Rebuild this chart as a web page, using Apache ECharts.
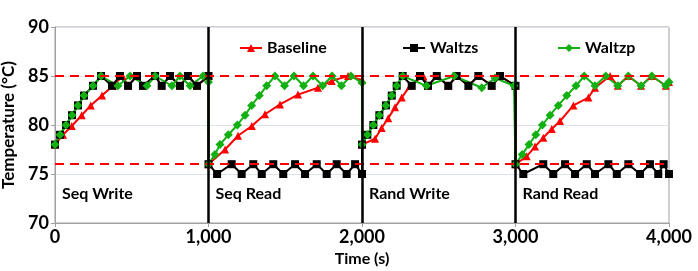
<!DOCTYPE html>
<html><head><meta charset="utf-8">
<script src="https://cdn.jsdelivr.net/npm/echarts@6/dist/echarts.min.js"></script>
<style>html,body{margin:0;padding:0;background:#fff}#c{width:698px;height:271px}</style>
</head><body><div id="c"></div>
<script>
// ---- data (time in s, temperature in °C) ----
const xTicks = [0, 1000, 2000, 3000, 4000];
const yTicks = [70, 75, 80, 85, 90];
const phaseNames = ['Seq Write', 'Seq Read', 'Rand Write', 'Rand Read'];
const limitLines = [85, 76];
const phaseBounds = [1000, 2000, 3000];

const baselineT = [0, 52, 109, 174, 233, 306, 378, 440, 476, 534, 573, 652, 695, 749, 814, 866, 925, 1000,
  1000, 1108, 1192, 1282, 1368, 1466, 1583, 1713, 1803, 1909, 2000,
  2000, 2085, 2128, 2171, 2215, 2259, 2313, 2399, 2430, 2487, 2562, 2617, 2693, 2758, 2845, 2899, 3000,
  3000, 3073, 3127, 3181, 3236, 3290, 3377, 3475, 3518, 3616, 3666, 3735, 3818, 3888, 3979, 4000];
const baselineV = [78, 79, 79.9, 81, 82, 83, 84, 85, 84, 85, 84, 85, 84, 85, 84, 85, 84, 85,
  76, 77.5, 78.9, 79.9, 81.1, 82.1, 83.1, 83.8, 84.5, 85, 84.6,
  78, 78.6, 79.7, 80.7, 81.8, 82.8, 84, 85, 84, 85, 84, 85, 84, 85, 84, 85, 84,
  76, 76.8, 77.8, 78.7, 79.6, 80.4, 82, 82.8, 83.8, 85, 84, 85, 84, 85, 84, 84.4];

const waltzsT = [0, 33, 72, 111, 150, 189, 248, 300, 371, 423, 476, 534, 573, 652, 695, 749, 814, 866, 925, 1000,
  1000, 1056, 1151, 1216, 1292, 1347, 1422, 1487, 1564, 1629, 1705, 1770, 1835, 1900, 1955, 2000,
  2000, 2035, 2074, 2113, 2156, 2194, 2226, 2265, 2324, 2378, 2430, 2487, 2562, 2617, 2693, 2758, 2845, 2899, 3000,
  3000, 3051, 3181, 3246, 3323, 3388, 3464, 3518, 3605, 3660, 3735, 3811, 3876, 3930, 3965, 4000];
const waltzsV = [78, 79, 80, 81, 82, 83, 84, 85, 84, 85, 84, 85, 84, 85, 84, 85, 84, 85, 84, 85,
  76, 75, 76, 75, 76, 75, 76, 75, 76, 75, 76, 75, 76, 75, 76, 75,
  78, 79, 80, 81, 82, 83, 84, 85, 84, 85, 84, 85, 84, 85, 84, 85, 84, 85, 84,
  76, 75, 76, 75, 76, 75, 76, 75, 76, 75, 76, 75, 76, 75, 76, 75];

const waltzpT = [0, 33, 72, 111, 150, 189, 248, 300, 410, 489, 599, 652, 762, 814, 880, 964, 1000,
  1000, 1042, 1075, 1129, 1188, 1238, 1281, 1331, 1379, 1433, 1495, 1557, 1619, 1681, 1743, 1805, 1866, 1928, 2000,
  2000, 2035, 2074, 2113, 2156, 2194, 2226, 2265, 2420, 2600, 2780, 2867, 2990,
  3000, 3044, 3088, 3132, 3175, 3225, 3279, 3334, 3394, 3448, 3518, 3588, 3666, 3735, 3818, 3888, 3979, 4000];
const waltzpV = [78, 79, 80, 81, 82, 83, 84, 85, 84, 85, 84, 85, 84, 85, 84, 85, 84.4,
  76, 77, 78, 79, 80, 81, 82, 83, 84, 85, 84, 85, 84, 85, 84, 85, 84, 85, 84.3,
  78, 79, 80, 81, 82, 83, 84, 85, 84, 85, 83.8, 84.8, 84,
  76, 77, 78, 79, 80, 81, 82, 83, 84, 85, 84, 85, 84, 85, 84, 85, 84, 84.4];

const zip = (t, v) => t.map((x, i) => [x, v[i]]);
const FONT = 'Lato';

const chart = echarts.init(document.getElementById('c'), null, {renderer: 'canvas'});
const GRID = {left: 55, right: 29, top: 27, bottom: 48};

const legendBase = {
  orient: 'horizontal', top: 35, itemWidth: 22, itemHeight: 10, itemGap: 4,
  textStyle: {fontFamily: FONT, fontWeight: 'bold', fontSize: 16, color: '#000'}
};

const option = {
  animation: false,
  backgroundColor: '#fff',
  grid: Object.assign({show: true, borderColor: '#a0a0a0', borderWidth: 1, backgroundColor: 'transparent',
    containLabel: false, outerBoundsMode: 'none'}, GRID),
  legend: [
    Object.assign({}, legendBase, {left: 234, data: ['Baseline']}),
    Object.assign({}, legendBase, {left: 397, data: ['Waltzs']}),
    Object.assign({}, legendBase, {left: 552, data: ['Waltzp']})
  ],
  xAxis: {
    type: 'value', min: xTicks[0], max: xTicks[xTicks.length - 1], interval: 1000,
    name: 'Time (s)', nameLocation: 'middle', nameGap: 24,
    nameTextStyle: {fontFamily: FONT, fontWeight: 'bold', fontSize: 16, color: '#000'},
    axisLine: {show: true, lineStyle: {color: '#a0a0a0', width: 1}},
    axisTick: {show: true, length: 4, lineStyle: {color: '#a0a0a0'}},
    splitLine: {show: false},
    axisLabel: {fontFamily: FONT, fontWeight: 'bold', fontSize: 18, color: '#000', margin: 5,
      formatter: v => v.toString().replace(/\B(?=(\d{3})+(?!\d))/g, ',')}
  },
  yAxis: {
    type: 'value', min: yTicks[0], max: yTicks[yTicks.length - 1], interval: 5,
    name: 'Temperature (°C)', nameLocation: 'middle', nameGap: 33,
    nameTextStyle: {fontFamily: FONT, fontWeight: 'bold', fontSize: 17, color: '#000'},
    axisLine: {show: true, lineStyle: {color: '#a0a0a0', width: 1}},
    axisTick: {show: true, length: 4, lineStyle: {color: '#a0a0a0'}},
    splitLine: {show: true, lineStyle: {color: '#dde3ec', width: 1}},
    axisLabel: {fontFamily: FONT, fontWeight: 'bold', fontSize: 18, color: '#000', margin: 6}
  },
  series: [
    {
      name: 'Baseline', type: 'line', data: zip(baselineT, baselineV),
      symbol: 'triangle', symbolSize: 8, color: '#ff0000',
      lineStyle: {color: '#ff0000', width: 2}, itemStyle: {color: '#ff0000'}
    },
    {
      name: 'Waltzs', type: 'line', data: zip(waltzsT, waltzsV),
      symbol: 'rect', symbolSize: 8, color: '#000',
      lineStyle: {color: '#000', width: 2}, itemStyle: {color: '#000'}
    },
    {
      name: 'Waltzp', type: 'line', data: zip(waltzpT, waltzpV),
      symbol: 'diamond', symbolSize: 9, color: '#12b012',
      lineStyle: {color: '#12b012', width: 2}, itemStyle: {color: '#12b012'}
    },
    {
      name: 'limits', type: 'line', data: [], z: 5, silent: true,
      markLine: {
        silent: true, symbol: 'none', label: {show: false}, animation: false,
        lineStyle: {color: '#ff0000', type: [9, 6], width: 2},
        data: limitLines.map(v => ({yAxis: v}))
      }
    },
    {
      name: 'bounds', type: 'line', data: [], z: 6, silent: true,
      markLine: {
        silent: true, symbol: 'none', label: {show: false}, animation: false,
        lineStyle: {color: '#000', type: 'solid', width: 2.5},
        data: phaseBounds.map(v => ({xAxis: v}))
      }
    }
  ]
};
chart.setOption(option);

// phase labels, anchored to data coordinates
const labelOffsets = [0, 1000, 2000, 3000];
chart.setOption({
  graphic: phaseNames.map((name, i) => {
    const p = chart.convertToPixel({gridIndex: 0}, [labelOffsets[i], 72.9]);
    return {
      type: 'text', left: p[0] + 7, top: p[1] - 9, z: 10,
      style: {text: name, fontFamily: FONT, fontWeight: 'bold', fontSize: 16, fill: '#000'}
    };
  })
});
</script>
</body></html>
